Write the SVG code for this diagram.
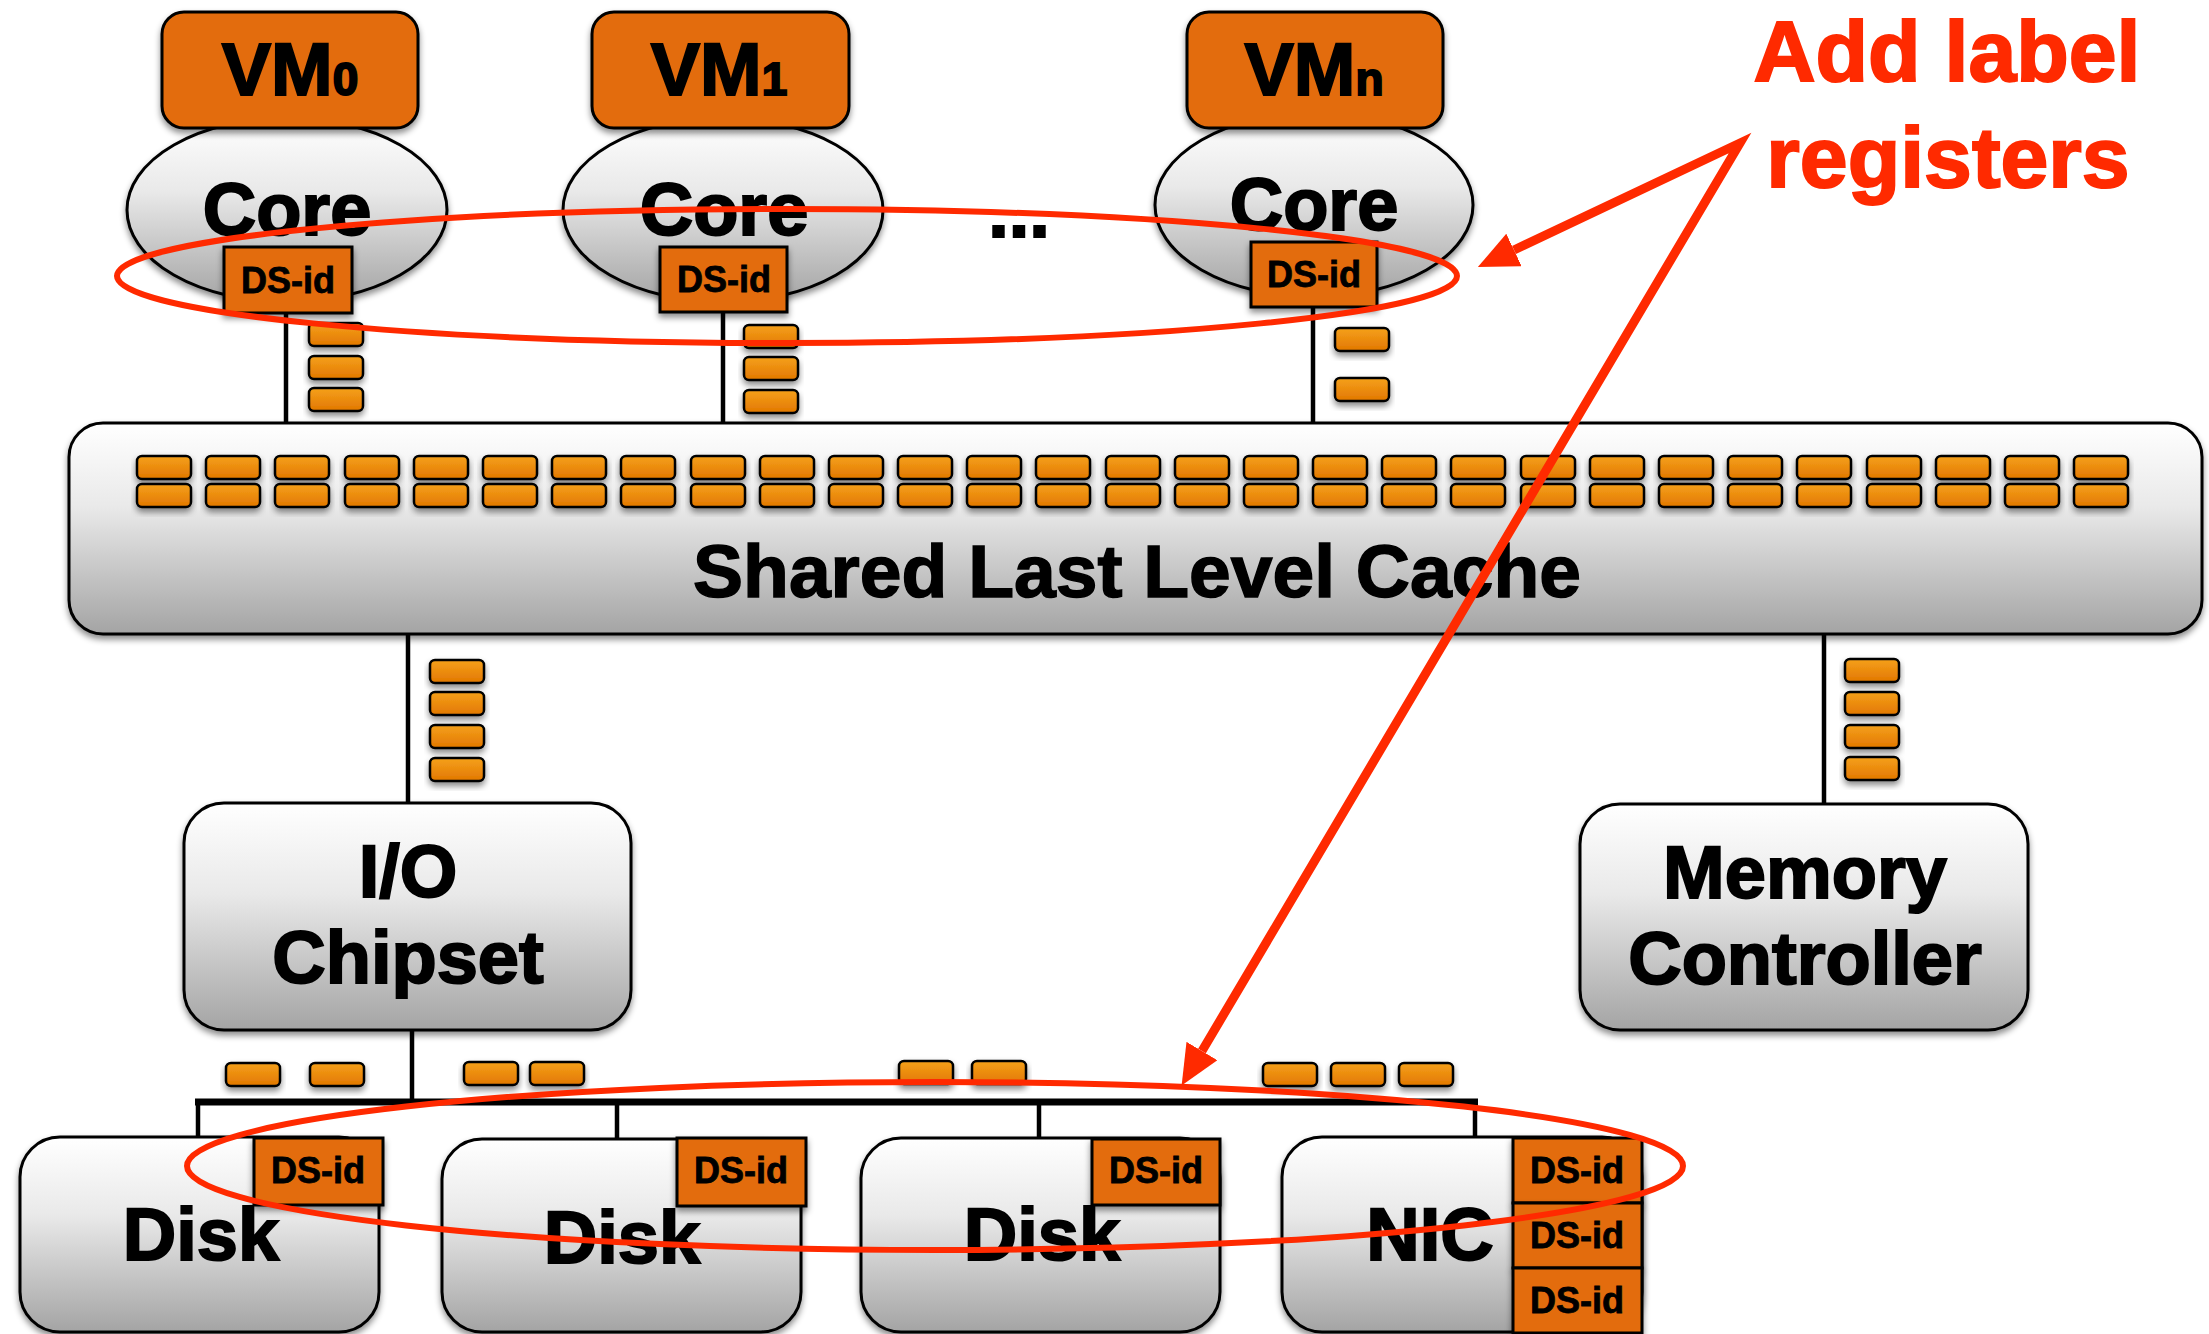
<svg xmlns="http://www.w3.org/2000/svg" xmlns:xlink="http://www.w3.org/1999/xlink" width="2209" height="1334" viewBox="0 0 2209 1334">
<defs>
  <linearGradient id="gGray" x1="0" y1="0" x2="0" y2="1">
    <stop offset="0" stop-color="#FFFFFF"/>
    <stop offset="0.4" stop-color="#E9E9E9"/>
    <stop offset="1" stop-color="#A4A4A4"/>
  </linearGradient>
  <linearGradient id="gReg" x1="0" y1="0" x2="0" y2="1">
    <stop offset="0" stop-color="#F5A11C"/>
    <stop offset="1" stop-color="#E27700"/>
  </linearGradient>
  <filter id="sh" x="-10%" y="-20%" width="120%" height="160%">
    <feDropShadow dx="0" dy="4" stdDeviation="3" flood-color="#000" flood-opacity="0.45"/>
  </filter>
  <marker id="redHead" viewBox="0 0 40 36" refX="0" refY="18" markerWidth="40" markerHeight="36" markerUnits="userSpaceOnUse" orient="auto-start-reverse">
    <path d="M0,0 L40,18 L0,36 Z" fill="#FF2A00"/>
  </marker>
  <!-- one register cell -->
  <rect id="reg" width="54" height="23" rx="5" class="reg"/>
  <!-- two stacked cells in the cache -->
  <g id="col">
    <use xlink:href="#reg" y="0"/>
    <use xlink:href="#reg" y="28"/>
  </g>
</defs>
<style>
  .box{fill:url(#gGray);stroke:#000;stroke-width:3;filter:url(#sh)}
  .org{fill:#E36C0A;stroke:#000;stroke-width:3;filter:url(#sh)}
  .reg{fill:url(#gReg);stroke:#000;stroke-width:2.5;filter:url(#sh)}
  .wire{stroke:#000;stroke-width:4.5;fill:none}
  .bus{stroke:#000;stroke-width:7;fill:none}
  .t{font-family:"Liberation Sans",Arial,Helvetica,sans-serif;font-weight:bold;fill:#000;text-anchor:middle;stroke:#000;stroke-width:1.5}
  .big{font-size:74px;stroke-width:2}
  .ds{font-size:36px;stroke-width:0.8}
  .note{font-family:"Liberation Sans",Arial,Helvetica,sans-serif;font-weight:bold;fill:#FF2A00;stroke:#FF2A00;stroke-width:2;text-anchor:middle;font-size:86px}
  .ring{fill:none;stroke:#FF2A00;stroke-width:6}
  .arrow{stroke:#FF2A00;fill:none;stroke-width:9;stroke-linejoin:miter;stroke-miterlimit:10}
</style>

<!-- connectors -->
<g id="connectors">
  <line class="wire" x1="286" y1="313" x2="286" y2="424"/>
  <line class="wire" x1="723" y1="312" x2="723" y2="424"/>
  <line class="wire" x1="1313" y1="307" x2="1313" y2="424"/>
  <line class="wire" x1="408" y1="634" x2="408" y2="804"/>
  <line class="wire" x1="1824" y1="634" x2="1824" y2="805"/>
  <line class="wire" x1="412" y1="1030" x2="412" y2="1102"/>
  <line class="bus" x1="195" y1="1102" x2="1478" y2="1102"/>
  <line class="wire" x1="198" y1="1102" x2="198" y2="1138"/>
  <line class="wire" x1="617" y1="1102" x2="617" y2="1140"/>
  <line class="wire" x1="1039" y1="1102" x2="1039" y2="1139"/>
  <line class="wire" x1="1475" y1="1102" x2="1475" y2="1138"/>
</g>

<!-- cores with their VMs -->
<g id="core0">
  <ellipse class="box" cx="287" cy="210" rx="160" ry="92"/>
  <rect class="org" x="162" y="12" width="256" height="116" rx="22"/>
  <text class="t big" x="290" y="95">VM<tspan font-size="46">0</tspan></text>
  <text class="t big" x="287" y="235">Core</text>
  <rect class="org" x="224" y="247" width="128" height="66"/>
  <text class="t ds" x="288" y="293">DS-id</text>
</g>
<g id="core1">
  <ellipse class="box" cx="723" cy="210" rx="160" ry="92"/>
  <rect class="org" x="592" y="12" width="257" height="116" rx="22"/>
  <text class="t big" x="719" y="95">VM<tspan font-size="46">1</tspan></text>
  <text class="t big" x="724" y="235">Core</text>
  <rect class="org" x="660" y="247" width="127" height="65"/>
  <text class="t ds" x="724" y="292">DS-id</text>
</g>
<g id="coreN">
  <ellipse class="box" cx="1314" cy="205" rx="159" ry="92"/>
  <rect class="org" x="1187" y="12" width="256" height="116" rx="22"/>
  <text class="t big" x="1314" y="95">VM<tspan font-size="46">n</tspan></text>
  <text class="t big" x="1314" y="230">Core</text>
  <rect class="org" x="1251" y="242" width="126" height="65"/>
  <text class="t ds" x="1314" y="287">DS-id</text>
</g>
<text id="ellipsis" class="t big" x="1019" y="237">...</text>

<!-- register queues on the core links -->
<g id="core-queues">
  <use xlink:href="#reg" x="309" y="323"/>
  <use xlink:href="#reg" x="309" y="356"/>
  <use xlink:href="#reg" x="309" y="388"/>
  <use xlink:href="#reg" x="744" y="325"/>
  <use xlink:href="#reg" x="744" y="357"/>
  <use xlink:href="#reg" x="744" y="390"/>
  <use xlink:href="#reg" x="1335" y="328"/>
  <use xlink:href="#reg" x="1335" y="378"/>
</g>

<!-- shared cache -->
<g id="llc">
  <rect class="box" x="69" y="423" width="2133" height="211" rx="34"/>
  <use xlink:href="#col" x="137" y="456"/>
  <use xlink:href="#col" x="206" y="456"/>
  <use xlink:href="#col" x="275" y="456"/>
  <use xlink:href="#col" x="345" y="456"/>
  <use xlink:href="#col" x="414" y="456"/>
  <use xlink:href="#col" x="483" y="456"/>
  <use xlink:href="#col" x="552" y="456"/>
  <use xlink:href="#col" x="621" y="456"/>
  <use xlink:href="#col" x="691" y="456"/>
  <use xlink:href="#col" x="760" y="456"/>
  <use xlink:href="#col" x="829" y="456"/>
  <use xlink:href="#col" x="898" y="456"/>
  <use xlink:href="#col" x="967" y="456"/>
  <use xlink:href="#col" x="1036" y="456"/>
  <use xlink:href="#col" x="1106" y="456"/>
  <use xlink:href="#col" x="1175" y="456"/>
  <use xlink:href="#col" x="1244" y="456"/>
  <use xlink:href="#col" x="1313" y="456"/>
  <use xlink:href="#col" x="1382" y="456"/>
  <use xlink:href="#col" x="1451" y="456"/>
  <use xlink:href="#col" x="1521" y="456"/>
  <use xlink:href="#col" x="1590" y="456"/>
  <use xlink:href="#col" x="1659" y="456"/>
  <use xlink:href="#col" x="1728" y="456"/>
  <use xlink:href="#col" x="1797" y="456"/>
  <use xlink:href="#col" x="1867" y="456"/>
  <use xlink:href="#col" x="1936" y="456"/>
  <use xlink:href="#col" x="2005" y="456"/>
  <use xlink:href="#col" x="2074" y="456"/>
  <text class="t" x="1137" y="597" font-size="75" stroke-width="2">Shared Last Level Cache</text>
</g>

<!-- queues below the cache -->
<g id="lower-queues">
  <use xlink:href="#reg" x="430" y="660"/>
  <use xlink:href="#reg" x="430" y="692"/>
  <use xlink:href="#reg" x="430" y="725"/>
  <use xlink:href="#reg" x="430" y="758"/>
  <use xlink:href="#reg" x="1845" y="659"/>
  <use xlink:href="#reg" x="1845" y="692"/>
  <use xlink:href="#reg" x="1845" y="725"/>
  <use xlink:href="#reg" x="1845" y="757"/>
</g>

<g id="io-chipset">
  <rect class="box" x="184" y="803" width="447" height="227" rx="40"/>
  <text class="t big" x="408" y="897">I/O</text>
  <text class="t big" x="408" y="983">Chipset</text>
</g>
<g id="memory-controller">
  <rect class="box" x="1580" y="804" width="448" height="226" rx="40"/>
  <text class="t big" x="1805" y="898">Memory</text>
  <text class="t big" x="1805" y="984">Controller</text>
</g>

<!-- queues on the I/O bus -->
<g id="bus-queues">
  <use xlink:href="#reg" x="226" y="1063"/>
  <use xlink:href="#reg" x="310" y="1063"/>
  <use xlink:href="#reg" x="464" y="1062"/>
  <use xlink:href="#reg" x="530" y="1062"/>
  <use xlink:href="#reg" x="899" y="1061"/>
  <use xlink:href="#reg" x="972" y="1061"/>
  <use xlink:href="#reg" x="1263" y="1063"/>
  <use xlink:href="#reg" x="1331" y="1063"/>
  <use xlink:href="#reg" x="1399" y="1063"/>
</g>

<!-- devices -->
<g id="disk0">
  <rect class="box" x="20" y="1137" width="359" height="195" rx="40"/>
  <text class="t big" x="201" y="1260">Disk</text>
  <rect class="org" x="254" y="1138" width="129" height="67"/>
  <text class="t ds" x="318" y="1183">DS-id</text>
</g>
<g id="disk1">
  <rect class="box" x="442" y="1139" width="359" height="193" rx="40"/>
  <text class="t big" x="622" y="1263">Disk</text>
  <rect class="org" x="677" y="1138" width="129" height="68"/>
  <text class="t ds" x="741" y="1183">DS-id</text>
</g>
<g id="disk2">
  <rect class="box" x="861" y="1138" width="359" height="194" rx="40"/>
  <text class="t big" x="1042" y="1260">Disk</text>
  <rect class="org" x="1092" y="1139" width="128" height="66"/>
  <text class="t ds" x="1156" y="1183">DS-id</text>
</g>
<g id="nic">
  <rect class="box" x="1282" y="1137" width="360" height="195" rx="40"/>
  <text class="t big" x="1430" y="1260">NIC</text>
  <rect class="org" x="1513" y="1138" width="129" height="65"/>
  <rect class="org" x="1513" y="1203" width="129" height="65"/>
  <rect class="org" x="1513" y="1268" width="129" height="65"/>
  <text class="t ds" x="1577" y="1183">DS-id</text>
  <text class="t ds" x="1577" y="1248">DS-id</text>
  <text class="t ds" x="1577" y="1313">DS-id</text>
</g>

<!-- highlight rings and callout -->
<g id="callout">
  <ellipse class="ring" cx="787" cy="276" rx="670" ry="67"/>
  <ellipse class="ring" cx="935" cy="1166" rx="748" ry="84"/>
  <polyline class="arrow" points="1514,250 1740,143 1202,1051" marker-start="url(#redHead)" marker-end="url(#redHead)"/>
  <text class="note" x="1947" y="81">Add label</text>
  <text class="note" x="1948" y="187">registers</text>
</g>
</svg>
